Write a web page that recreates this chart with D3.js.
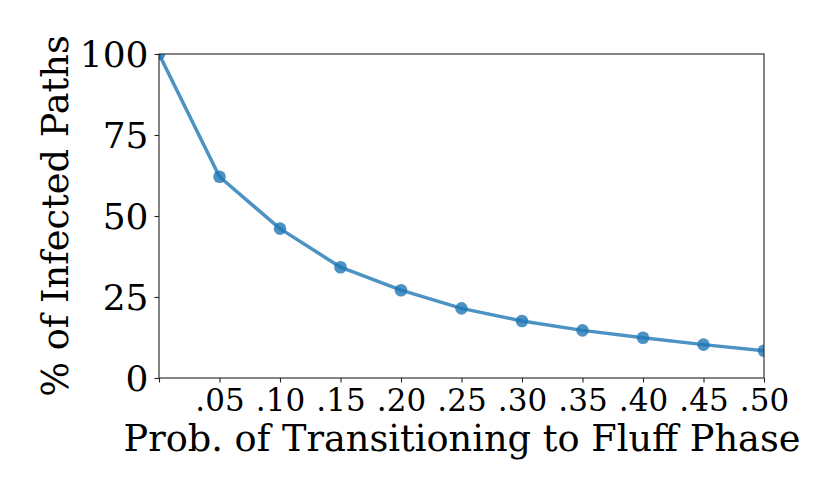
<!DOCTYPE html>
<html>
<head>
<meta charset="utf-8">
<script src="https://cdn.jsdelivr.net/npm/d3@7"></script>
<style>
  body { margin: 0; background: #fff; }
  text { font-family: "DejaVu Serif", serif; fill: #000; }
</style>
</head>
<body>
<svg id="chart"></svg>
<script>
const probs = [0, 0.05, 0.10, 0.15, 0.20, 0.25, 0.30, 0.35, 0.40, 0.45, 0.50];
const infected = [100, 62.1, 46.1, 34.2, 27.1, 21.5, 17.6, 14.7, 12.4, 10.3, 8.4];
const xTicks = [0, 0.05, 0.10, 0.15, 0.20, 0.25, 0.30, 0.35, 0.40, 0.45, 0.50];
const xTickLabels = ["", ".05", ".10", ".15", ".20", ".25", ".30", ".35", ".40", ".45", ".50"];
const yTicks = [0, 25, 50, 75, 100];

const W = 830, H = 498;
const margin = { top: 54, right: 66, bottom: 120, left: 159 };
const width = W - margin.left - margin.right;
const height = H - margin.top - margin.bottom;

const svg = d3.select("#chart").attr("width", W).attr("height", H);
const g = svg.append("g").attr("transform", `translate(${margin.left},${margin.top})`);

const x = d3.scaleLinear().domain([0, 0.5]).range([0, width]);
const y = d3.scaleLinear().domain([0, 100]).range([height, 0]);

svg.append("defs").append("clipPath").attr("id", "clip")
    .append("rect").attr("width", width).attr("height", height);

const color = "#1f77b4";

const plot = g.append("g").attr("clip-path", "url(#clip)");

plot.append("path")
    .datum(probs.map((p, i) => [p, infected[i]]))
    .attr("fill", "none")
    .attr("stroke", color)
    .attr("stroke-opacity", 0.8)
    .attr("stroke-width", 3.5)
    .attr("stroke-linejoin", "round")
    .attr("d", d3.line().x(d => x(d[0])).y(d => y(d[1])));

plot.selectAll("circle")
    .data(probs.map((p, i) => [p, infected[i]]))
    .join("circle")
    .attr("cx", d => x(d[0]))
    .attr("cy", d => y(d[1]))
    .attr("r", 6.3)
    .attr("fill", color)
    .attr("fill-opacity", 0.8);

// axes
const xAxis = g.append("g")
    .attr("transform", `translate(0,${height})`)
    .call(d3.axisBottom(x).tickValues(xTicks)
        .tickFormat((d, i) => xTickLabels[i])
        .tickSize(4.5).tickPadding(6));
const yAxis = g.append("g")
    .call(d3.axisLeft(y).tickValues(yTicks).tickSize(4.5).tickPadding(6));

[xAxis, yAxis].forEach(a => {
    a.select(".domain").remove();
    a.selectAll("line").attr("stroke", "#222").attr("stroke-width", 1.1);
    a.selectAll("text").attr("fill", "#000");
});
xAxis.selectAll("text").style("font-size", "31px");
yAxis.selectAll("text").style("font-size", "36px").attr("dy", "0.36em");

// frame
g.append("rect")
    .attr("width", width).attr("height", height)
    .attr("fill", "none").attr("stroke", "#222").attr("stroke-width", 1.1);

// labels
svg.append("text")
    .attr("x", 462)
    .attr("y", 451)
    .attr("text-anchor", "middle")
    .style("font-size", "36.7px")
    .text("Prob. of Transitioning to Fluff Phase");

svg.append("text")
    .attr("transform", `translate(68,${margin.top + height / 2}) rotate(-90)`)
    .attr("text-anchor", "middle")
    .style("font-size", "36.7px")
    .text("% of Infected Paths");
</script>
</body>
</html>
